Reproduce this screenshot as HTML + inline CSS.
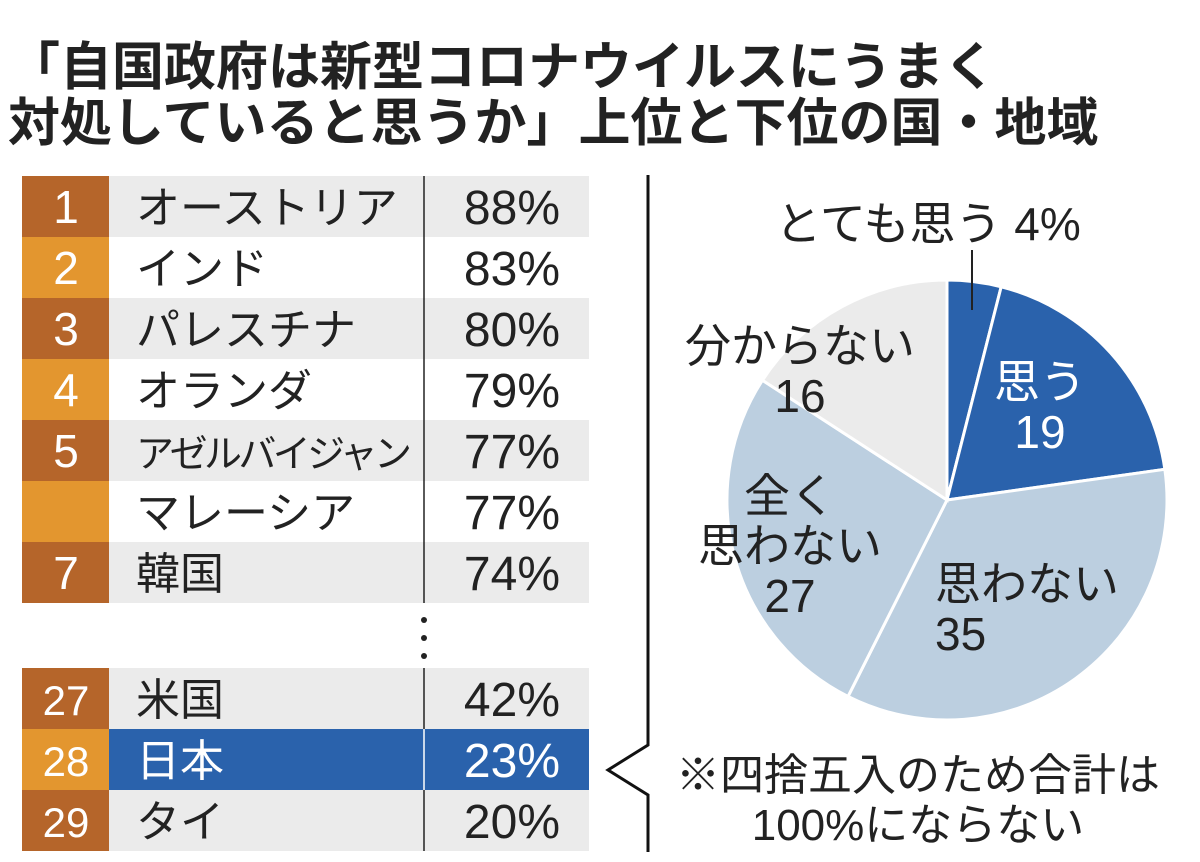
<!DOCTYPE html>
<html><head><meta charset="utf-8">
<style>
body{margin:0;width:1200px;height:862px;background:#fff;overflow:hidden;font-family:"Liberation Sans","Noto Sans CJK JP",sans-serif;color:#222}
.t{position:absolute;left:8px;font-size:52px;font-weight:bold;letter-spacing:0px;white-space:nowrap;color:#222;line-height:56px}
svg{position:absolute;left:0;top:0}
</style></head>
<body>
<div class="t" style="top:40px">「自国政府は新型コロナウイルスにうまく</div>
<div class="t" style="top:96px">対処していると思うか」上位と下位の国・地域</div>
<svg id="c" width="1200" height="862" font-family="Liberation Sans, Noto Sans CJK JP, sans-serif"></svg>
<script>
const ranks=["1","2","3","4","5","","7","27","28","29"];
const names=["オーストリア","インド","パレスチナ","オランダ","アゼルバイジャン","マレーシア","韓国","米国","日本","タイ"];
const pcts=[88,83,80,79,77,77,74,42,23,20];
const pieLabels=["とても思う","思う","思わない","全く思わない","分からない"];
const pieValues=[4,19,35,27,16];
const NS="http://www.w3.org/2000/svg";
const svg=document.getElementById('c');
function mk(t,a,p){const e=document.createElementNS(NS,t);for(const k in a)e.setAttribute(k,a[k]);(p||svg).appendChild(e);return e;}
function txt(s,a){const e=mk('text',a);e.textContent=s;return e;}
const rowH=61;
function rowY(i){return i<7?176+i*rowH:668+(i-7)*rowH;}
for(let i=0;i<ranks.length;i++){
  const y=rowY(i);const jp=names[i]==="日本";
  const k=i<7?i:i-7;
  const bg=mk('rect',{x:22,y:y,width:567,height:rowH,fill:jp?"#2a62ac":(k%2===0?"#ebebeb":"#fff")});
  
  const rc=mk('rect',{x:22,y:y,width:87,height:rowH,fill:(k%2===0?"#b5652a":"#e3962f")});
  
  const r=txt(ranks[i],{x:66,y:y+47,"font-size":i>=7?42:46,fill:"#fff","text-anchor":"middle"});
  
  const n=txt(names[i],{x:136,y:y+47,"font-size":i===4?38:44,fill:jp?"#fff":"#222"});
  if(i===4)n.setAttribute('textLength','276');
  
  const p=txt(pcts[i]+"%",{x:560,y:y+48,"font-size":48,fill:jp?"#fff":"#222","text-anchor":"end"});
  
  const d=mk('line',{x1:424,x2:424,y1:y,y2:y+rowH,stroke:jp?"#fff":"#222","stroke-width":1.5});
  
}
for(const yy of [620,638,656]){const c=mk('circle',{cx:424,cy:yy,r:3,fill:"#222"});}
const vl=mk('polyline',{points:"648,175 648,745 608,770 648,795 648,852",fill:"none",stroke:"#111","stroke-width":3});

const cx=947,cy=500,R=220;
const total=pieValues.reduce((a,b)=>a+b,0);
const cols=["#2a62ac","#2a62ac","#bccfe0","#bccfe0","#ebebeb"];
let acc=0;
for(let i=0;i<pieValues.length;i++){
  const a0=acc/total*2*Math.PI;acc+=pieValues[i];const a1=acc/total*2*Math.PI;
  const x0=cx+R*Math.sin(a0),y0=cy-R*Math.cos(a0),x1=cx+R*Math.sin(a1),y1=cy-R*Math.cos(a1);
  const s=mk('path',{d:`M${cx},${cy}L${x0},${y0}A${R},${R} 0 ${a1-a0>Math.PI?1:0} 1 ${x1},${y1}Z`,fill:cols[i],stroke:"#fff","stroke-width":3});
  
}
const ll=mk('line',{x1:972,y1:250,x2:972,y2:310,stroke:"#222","stroke-width":2});

function lab(lines,x,y,fill,anchor,name,fs){for(let k=0;k<lines.length;k++){const t=txt(lines[k],{x:x,y:y+k*50,"font-size":fs||46,fill:fill,"text-anchor":anchor});}}
lab([pieLabels[0]+" "+pieValues[0]+"%"],928,240,"#222","middle","label-very-much");
lab([pieLabels[1],String(pieValues[1])],1040,398,"#fff","middle","label-think");
lab([pieLabels[2],String(pieValues[2])],935,600,"#222","start","label-dont-think");
lab(["全く","思わない",String(pieValues[3])],790,512,"#222","middle","label-not-at-all");
lab([pieLabels[4],String(pieValues[4])],800,362,"#222","middle","label-dont-know");
lab(["※四捨五入のため合計は","100%にならない"],918,790,"#222","middle","footnote",44);
</script>
</body></html>
